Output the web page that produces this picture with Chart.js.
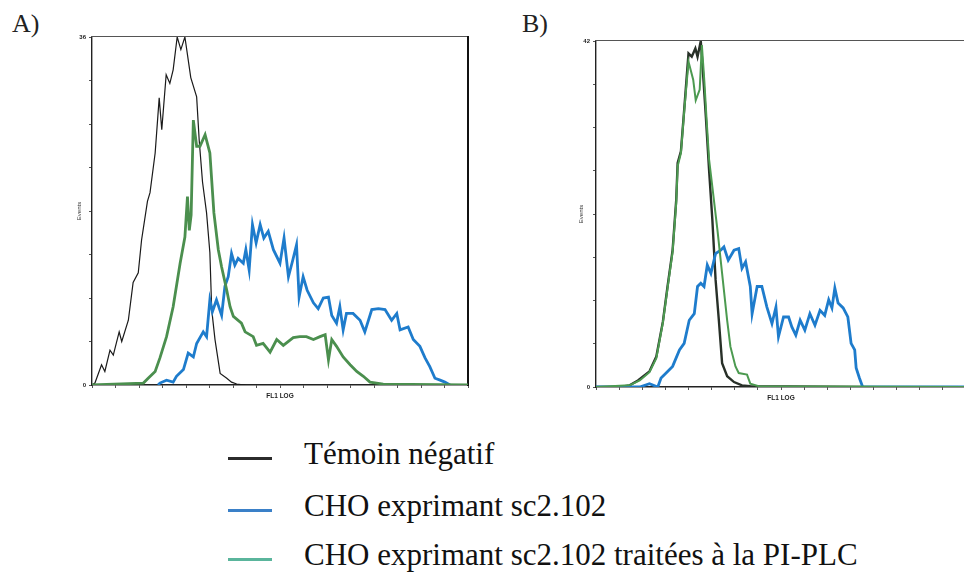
<!DOCTYPE html>
<html>
<head>
<meta charset="utf-8">
<script src="https://cdn.jsdelivr.net/npm/chart.js@4"></script>
<style>
html,body{margin:0;padding:0;background:#fff;overflow:hidden;width:964px;height:581px;}
.box{position:absolute;}
.tag{position:absolute;font-family:'Liberation Serif','DejaVu Serif',serif;font-size:26px;color:#222;line-height:30px;}
.row{position:absolute;left:228px;height:34px;white-space:nowrap;}
.sw{position:absolute;left:0;top:20px;width:44px;height:3px;}
.lab{position:absolute;left:76px;top:0;font-family:'Liberation Serif','DejaVu Serif',serif;font-size:31px;line-height:34px;color:#111;}
</style>
</head>
<body>
<div class="tag" style="left:12px;top:9px">A)</div>
<div class="tag" style="left:522px;top:9px">B)</div>
<div class="box" style="left:50px;top:27px;width:432px;height:378px"><canvas id="chartA"></canvas></div>
<div class="box" style="left:554px;top:31px;width:415px;height:376px"><canvas id="chartB"></canvas></div>
<div id="legend"></div>
<script>
const seriesNames=['Témoin négatif','CHO exprimant sc2.102','CHO exprimant sc2.102 traitées à la PI-PLC'];
const legendColors=['#2b2b2b','#3a80c8','#5ab59c'];
const xTitle='FL1 LOG';
const yTitle='Events';
const aYMax=36;
const bYMax=42;

// panel A, x = FL1 channel (0-1024), y = events
const aNegX=[0,8,26,35,49,58,74,81,99,112,126,135,151,158,172,183,190,202,212,221,232,242,253,269,285,292,301,312,321,326,335,349,367,380,394,417];
const aNegY=[0,0.2,2.1,1.4,3.6,3.1,5.5,4.5,6.7,10.6,11.6,15.0,19.0,19.9,24.0,29.7,26.4,32.1,31.2,32.6,36.0,34.7,36.0,31.8,29.8,25.3,21.0,17.8,13.7,7.8,4.7,1.2,0.7,0.3,0.1,0];
const aSc2X=[180,185,203,221,230,249,262,276,285,303,312,321,328,339,353,362,371,380,389,398,412,419,428,437,447,458,468,480,494,512,523,535,546,557,564,575,586,603,616,630,644,653,666,675,684,693,711,730,743,762,780,798,816,830,839,861,875,893,907,920,934,948,961,975];
const aSc2Y=[0,0.2,0.5,0.3,0.9,1.6,3.3,2.9,4.3,5.5,5.0,8.8,7.6,8.8,7.2,10.2,11.2,13.6,12.4,13.1,12.6,14.0,11.9,16.6,14.7,16.6,15.2,15.9,14.0,12.6,15.2,11.2,12.8,14.5,9.1,11.2,9.8,8.5,7.9,9.0,9.1,7.2,6.4,8.1,5.7,7.4,7.4,6.7,5.5,7.8,7.9,7.8,6.7,7.4,5.7,6.0,4.7,4.0,2.8,1.9,0.7,0.5,0.3,0];
const aPlcX=[0,140,153,172,185,203,221,240,253,260,265,270,276,285,294,308,321,332,344,353,367,376,385,407,417,439,448,466,485,503,521,548,566,584,603,621,635,644,653,666,684,703,721,739,757,775,793,1024];
const aPlcY=[0,0.2,0.7,1.4,2.8,5.0,8.1,12.6,15.3,19.5,16.0,17.6,27.4,24.7,24.7,25.9,24.0,17.8,14.0,12.2,9.8,8.1,7.1,6.4,5.5,5.0,4.1,4.3,3.4,4.7,4.1,4.9,5.0,5.0,4.7,5.0,5.2,2.6,4.7,4.0,2.9,2.1,1.4,0.9,0.3,0.2,0.1,0];

// panel B
const bNegX=[0,66,93,116,148,167,185,198,212,222,226,235,244,256,265,275,281,290,295,304,313,322,331,340,349,363,382,404,427,740];
const bNegY=[0,0,0.2,0.8,1.9,3.7,7.9,12.2,16.6,22.7,27.2,28.6,33.6,40.5,40.1,41.1,40.1,42.0,38.9,32.8,26.3,20.3,13.0,8.1,2.9,1.3,0.6,0.2,0.1,0];
const bSc2X=[0,121,148,171,180,194,212,231,244,258,272,281,290,299,308,318,331,345,354,366,382,395,404,414,427,432,446,459,473,487,498,505,519,533,542,553,565,578,592,606,620,633,644,653,661,670,684,697,706,716,720,729,738,1024];
const bSc2Y=[0,0,0.4,0,1.1,1.7,2.5,4.5,5.3,8.1,8.9,12.2,12.6,12.2,14.8,13.8,16.2,16.6,17.0,15.4,16.6,16.8,14.4,15.2,12.2,8.9,12.2,12.2,9.7,7.7,9.7,6.1,8.5,8.5,7.3,6.3,8.1,6.9,8.9,7.5,9.3,8.7,10.6,9.6,12.0,10.2,9.6,8.5,5.3,4.5,2.3,1.1,0,0];
const bPlcX=[0,93,121,148,167,185,198,212,222,226,235,244,256,269,276,287,293,300,306,313,322,336,349,363,372,386,395,418,427,450,1024];
const bPlcY=[0,0.2,0.8,1.8,3.5,7.8,12.0,16.4,22.3,26.8,28.4,33.4,39.5,37.3,34.8,36.1,41.5,37.0,32.5,27.6,24.3,19.1,13.8,8.1,4.9,2.5,1.7,1.5,0.4,0.1,0];

function pts(xs,ys){return xs.map((x,i)=>({x:x,y:ys[i]}));}

function line(label,xs,ys,color,w){
    return {label:label,data:pts(xs,ys),borderColor:color,borderWidth:w,pointRadius:0,tension:0,fill:false};
}

function options(yMax,yTitlePad,xTitlePad,padRight,rightBorder){
    const tickFont={family:'Liberation Sans',size:6,weight:'bold'};
    return {
        responsive:true,
        maintainAspectRatio:false,
        animation:false,
        layout:{padding:{top:10,right:padRight,left:0,bottom:0}},
        plugins:{legend:{display:false},tooltip:{enabled:false}},
        scales:{
            x:{
                type:'linear',min:0,max:1024,
                grid:{display:true,drawOnChartArea:false,tickLength:3,color:'#555'},
                border:{display:true,color:'#222',width:1.4},
                ticks:{stepSize:64,autoSkip:false,callback:()=>'',font:tickFont},
                title:{display:true,text:xTitle,color:'#222',font:{family:'Liberation Sans',size:6.5,weight:'bold'},padding:{top:0,bottom:xTitlePad}},
                afterFit:s=>{s.height=20;}
            },
            y:{
                min:0,max:yMax,
                grid:{display:true,drawOnChartArea:false,tickLength:3,color:'#555'},
                border:{display:true,color:'#222',width:1.4},
                ticks:{stepSize:yMax/8,autoSkip:false,padding:3,color:'#222',font:tickFont,
                    callback:v=>(Math.abs(v)<1e-6||Math.abs(v-yMax)<1e-6)?Math.round(v):''},
                title:{display:true,text:yTitle,color:'#333',font:{family:'Liberation Sans',size:6},padding:{top:yTitlePad,bottom:0}},
                afterFit:s=>{s.width=42;}
            },
            x2:{
                type:'linear',position:'top',
                grid:{display:false},
                border:{display:true,color:'#555',width:1.1},
                ticks:{display:false},
                afterFit:s=>{s.height=0;}
            },
            y2:{
                type:'linear',position:'right',display:rightBorder,
                grid:{display:false},
                border:{display:true,color:'#111',width:2},
                ticks:{display:false},
                afterFit:s=>{s.width=0;}
            }
        }
    };
}

new Chart(document.getElementById('chartA'),{
    type:'line',
    data:{datasets:[
        line(seriesNames[2],aPlcX,aPlcY,'#4b8f4e',2.8),
        line(seriesNames[1],aSc2X,aSc2Y,'#1e7ccc',2.8),
        line(seriesNames[0],aNegX,aNegY,'#1a1a1a',1.2)
    ]},
    options:options(aYMax,26,4.5,14,true)
});

new Chart(document.getElementById('chartB'),{
    type:'line',
    data:{datasets:[
        line(seriesNames[2],bPlcX,bPlcY,'#4c9a50',2.0),
        line(seriesNames[1],bSc2X,bSc2Y,'#1e7ccc',2.8),
        line(seriesNames[0],bNegX,bNegY,'#283028',2.4)
    ]},
    options:options(bYMax,24,5,0,false)
});

// legend under both panels
const legend=document.getElementById('legend');
const rowTops=[437,489,538];
seriesNames.forEach((name,i)=>{
    const row=document.createElement('div');
    row.className='row';
    row.style.top=rowTops[i]+'px';
    row.innerHTML='<div class="sw" style="background:'+legendColors[i]+'"></div><div class="lab">'+name+'</div>';
    legend.appendChild(row);
});
</script>
</body>
</html>
